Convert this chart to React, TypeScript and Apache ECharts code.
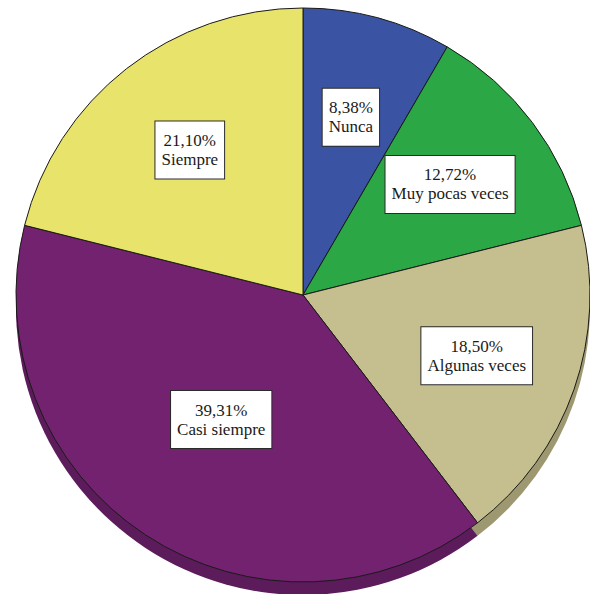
import React, { useEffect, useRef } from "react";
import * as echarts from "echarts";

const categories = ["Nunca", "Muy pocas veces", "Algunas veces", "Casi siempre", "Siempre"];
const percents = [8.38, 12.72, 18.5, 39.31, 21.1];
const topColors = ["#3a53a3", "#2ba845", "#c5bf8f", "#72226f", "#e8e36b"];
const sideColors = ["#2c3f7d", "#1f7d33", "#9d9870", "#5c1b5a", "#b8b455"];

const fmt = (v: number) => v.toFixed(2).replace(".", ",") + "%";

export default function App() {
  const ref = useRef<HTMLDivElement>(null);
  useEffect(() => {
    const chart = echarts.init(ref.current!, undefined, { renderer: "svg" });
    const center = [303, 295];
    const R = 287;
    const labelStyle = {
      show: true,
      position: "inside",
      formatter: (p: any) => fmt(p.value) + "\n" + p.name,
      fontFamily: "Liberation Serif",
      fontSize: 17,
      lineHeight: 19,
      color: "#1a1a1a",
      backgroundColor: "#ffffff",
      borderColor: "#2a2a2a",
      borderWidth: 1,
      padding: [9, 6, 10, 6],
      align: "center",
      verticalAlign: "middle",
    };
    const base = {
      type: "pie",
      startAngle: 90,
      clockwise: true,
      avoidLabelOverlap: false,
      animation: false,
      labelLine: { show: false },
      emphasis: { disabled: true },
    };
    chart.setOption({
      animation: false,
      series: [
        {
          ...base,
          silent: true,
          center: [center[0], center[1] + 13],
          radius: [0, R],
          label: { show: false },
          data: categories.map((c, i) => ({
            name: c,
            value: percents[i],
            itemStyle: { color: sideColors[i], borderWidth: 0 },
          })),
        },
        {
          ...base,
          silent: true,
          center,
          radius: [0, R],
          label: { show: false },
          data: categories.map((c, i) => ({
            name: c,
            value: percents[i],
            itemStyle: { color: topColors[i], borderColor: "#1a1a1a", borderWidth: 1 },
          })),
        },
        {
          ...base,
          silent: true,
          center,
          radius: [0, 362],
          data: categories.map((c, i) => ({
            name: c,
            value: percents[i],
            itemStyle: { color: "rgba(0,0,0,0)", borderWidth: 0 },
            label: { ...labelStyle, show: c !== "Casi siempre" },
          })),
        },
        {
          ...base,
          silent: true,
          center,
          radius: [0, 292],
          data: categories.map((c, i) => ({
            name: c,
            value: percents[i],
            itemStyle: { color: "rgba(0,0,0,0)", borderWidth: 0 },
            label: { ...labelStyle, show: c === "Casi siempre" },
          })),
        },
      ],
    });
    return () => chart.dispose();
  }, []);
  return (
    <div
      ref={ref}
      style={{ position: "fixed", left: 0, top: 0, width: 590, height: 594, background: "#ffffff" }}
    />
  );
}
